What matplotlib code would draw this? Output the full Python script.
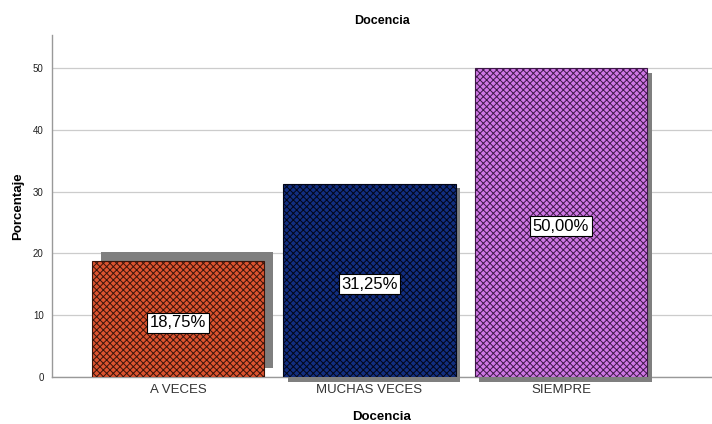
import matplotlib.pyplot as plt
import matplotlib.transforms as mtransforms

categories = ['A VECES', 'MUCHAS VECES', 'SIEMPRE']
porcentaje = [18.75, 31.25, 50.00]
etiquetas = ['18,75%', '31,25%', '50,00%']
colores = ['#dc5430', '#122e80', '#cf78e4']
hatch_colores = ['#3a140a', '#020618', '#3e1848']

plt.rcParams['font.family'] = ['Liberation Sans', 'DejaVu Sans']
plt.rcParams['hatch.linewidth'] = 0.7

fig = plt.figure(figsize=(7.12, 4.24), dpi=100)
ax = fig.add_axes([0.073, 0.111, 0.927, 0.806])

x = range(len(categories))

# sombras (desplazadas en puntos)
offsets = [(6.5, 6.5), (3.3, -3.3), (3.3, -3.3)]
for i in x:
    dx, dy = offsets[i]
    tr = mtransforms.offset_copy(ax.transData, fig=fig, x=dx, y=dy, units='points')
    ax.bar(i, porcentaje[i], width=0.9, color='#7f7f7f', transform=tr,
           clip_on=False, zorder=2)

bars = ax.bar(x, porcentaje, width=0.9, color=colores, edgecolor=hatch_colores,
              linewidth=0.8, hatch='xxxxx', zorder=3)

for b, lab in zip(bars, etiquetas):
    ax.text(b.get_x() + b.get_width() / 2, b.get_height() / 2 - 0.6, lab,
            ha='center', va='center', fontsize=12, zorder=5,
            bbox=dict(boxstyle='square,pad=0.16', fc='white', ec='black', lw=0.8))

ax.set_xlim(-0.658, 2.789)
ax.set_ylim(0, 55.3)
ax.set_xticks(list(x))
ax.set_xticklabels(categories, fontsize=9.5, color='#333333')
ax.set_yticks([0, 10, 20, 30, 40, 50])
ax.tick_params(axis='y', labelsize=7, length=0, pad=6, colors='#222222')
ax.tick_params(axis='x', length=0, pad=5)

ax.yaxis.grid(True, color='#cccccc', linewidth=0.9, zorder=0)
ax.set_axisbelow(True)
for s in ['top', 'right']:
    ax.spines[s].set_visible(False)
for s in ['left', 'bottom']:
    ax.spines[s].set_color('#999999')
    ax.spines[s].set_linewidth(1.0)
ax.spines['bottom'].set_zorder(1)

ax.set_title('Docencia', fontsize=9, fontweight='bold', pad=8)
ax.set_xlabel('Docencia', fontsize=9.5, fontweight='bold', labelpad=11)
ax.set_ylabel('Porcentaje', fontsize=9.5, fontweight='bold', labelpad=6)

fig.savefig('out.png', dpi=100)
